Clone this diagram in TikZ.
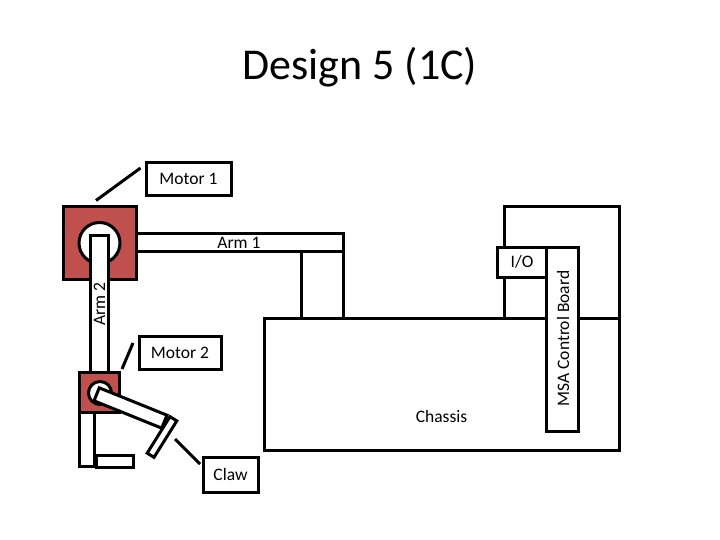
\documentclass[tikz,border=0pt]{standalone}
\usepackage{fontspec}
\setmainfont{Carlito}
\definecolor{motorred}{RGB}{192,80,77}
\tikzset{
  part/.style={draw=black, line width=3pt, fill=white, inner sep=0pt, outer sep=0pt, font=\fontsize{17.5}{21}\selectfont},
  motor/.style={part, fill=motorred},
  plain/.style={inner sep=0pt, font=\fontsize{17.5}{21}\selectfont},
  leader/.style={draw=black, line width=3pt}
}
\begin{document}
\begin{tikzpicture}[x=1pt, y=-1pt]
  \useasboundingbox (0, 0) rectangle (720, 540);
  \node [inner sep=0pt, font=\fontsize{44}{52}\selectfont] (title) at (360, 67) {Design 5 (1C)};
  % base
  \node [part, minimum width=115pt, minimum height=111pt] (backbox) at (561.5, 262.5) {};
  \node [part, minimum width=355pt, minimum height=132pt] (chassis) at (441.5, 384) {};
  \node [part, minimum width=42pt, minimum height=67pt] (mast) at (322, 284.5) {};
  \node [part, minimum width=207pt, minimum height=18pt] (arma) at (239.5, 242) {};
  \node [part, minimum width=49pt, minimum height=30pt] (io) at (521.5, 262) {};
  \node [part, minimum width=32pt, minimum height=184pt] (board) at (562, 339) {};
  % upper joint
  \node [motor, minimum width=73pt, minimum height=72pt] (motora) at (99.5, 243) {};
  \node [part, circle, minimum size=41pt] (pivota) at (99.5, 243) {};
  \node [part, minimum width=18pt, minimum height=137pt] (armb) at (99, 303.5) {};
  % lower joint
  \node [motor, minimum width=40pt, minimum height=40pt] (motorb) at (99, 392) {};
  \node [part, circle, minimum size=23pt] (pivotb) at (100, 393) {};
  \node [part, minimum width=15pt, minimum height=54pt] (legb) at (86.5, 439) {};
  \node [part, minimum width=37pt, minimum height=12pt] (foot) at (114.5, 461) {};
  \node [part, rotate=-22, minimum width=73pt, minimum height=14pt] (armc) at (130.5, 408) {};
  \node [part, rotate=58, minimum width=43pt, minimum height=8pt] (claw) at (162, 437) {};
  % labels
  \node [part, minimum width=85pt, minimum height=33pt] (motoralabel) at (188.5, 179) {Motor 1};
  \node [part, minimum width=82pt, minimum height=33pt] (motorblabel) at (180, 352.5) {Motor 2};
  \node [part, minimum width=55pt, minimum height=35pt] (clawlabel) at (230.5, 474.5) {Claw};
  \node [plain] (armatext) at (239, 243) {Arm 1};
  \node [plain, rotate=90] (armbtext) at (99.5, 304) {Arm 2};
  \node [plain] (chassistext) at (441.5, 416) {Chassis};
  \node [plain] (iotext) at (522, 262) {I/O};
  \node [plain, rotate=90] (boardtext) at (563, 338.5) {MSA Control Board};
  % leader lines
  \coordinate (ma) at (140.5, 168);
  \coordinate (mb) at (96, 200.5);
  \coordinate (mc) at (133, 343);
  \coordinate (md) at (122, 369);
  \coordinate (ca) at (175, 439);
  \coordinate (cb) at (200, 464);
  \draw [leader] (ma) to (mb);
  \draw [leader] (mc) to (md);
  \draw [leader] (ca) to (cb);
\end{tikzpicture}
\end{document}
